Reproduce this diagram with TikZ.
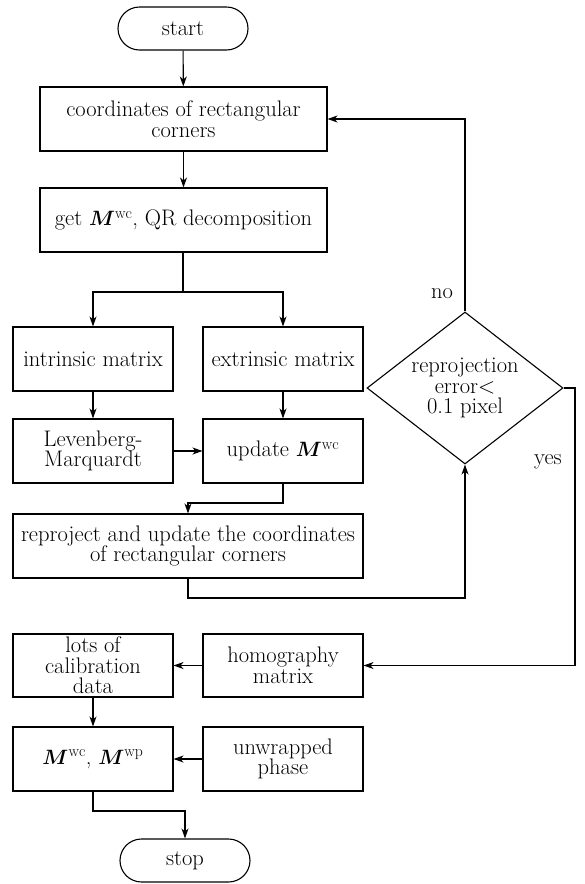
\documentclass[tikz,border=0pt]{standalone}
\usepackage{fontspec}
\usepackage{bm}
\usetikzlibrary{shapes.geometric,shapes.misc,arrows.meta}
\tikzset{
  txt/.style={font=\fontsize{22.5}{20.5}\selectfont},
  base/.style={draw, line width=1.1pt, inner xsep=2pt, inner ysep=1pt, align=center, txt},
  box/.style={base, rectangle, minimum height=64pt},
  term/.style={base, rounded rectangle, minimum width=134pt, minimum height=43pt},
  dec/.style={draw, line width=1.1pt, diamond, inner sep=0pt, aspect=1.29, minimum width=196pt, minimum height=152pt},
  arr/.style={line width=1.1pt, -{Stealth[length=10pt,width=7pt,inset=3pt]}},
  ln/.style={line width=1.1pt},
  lbl/.style={txt, align=center, inner sep=0pt}
}
\begin{document}
\begin{tikzpicture}[x=1pt,y=-1pt]
\useasboundingbox (0,0) rectangle (585,884);
\node[term] (start) at (183,28.5) {start};
\node[box, minimum width=287pt] (coords) at (183.5,119) {coordinates of rectangular\\corners};
\node[box, minimum width=287pt] (getM) at (183.5,220) {get $\bm{M}^{\mathrm{wc}}$, QR decomposition};
\node[box, minimum width=160pt] (intr) at (93,359) {intrinsic matrix};
\node[box, minimum width=160pt] (extr) at (283,359) {extrinsic matrix};
\node[box, minimum width=160pt] (lm) at (93,451) {Levenberg-\\Marquardt};
\node[box, minimum width=160pt] (upd) at (283,451) {update $\bm{M}^{\mathrm{wc}}$};
\node[box, minimum width=350pt] (repr) at (188,546) {reproject and update the coordinates\\of rectangular corners};
\node[dec] (dia) at (465,388) {};
\node[lbl] (diat) at (dia.center) {reprojection\\error<\\0.1 pixel};
\node[box, minimum width=160pt, minimum height=63pt] (lots) at (93,665.5) {lots of\\calibration\\data};
\node[box, minimum width=160pt, minimum height=63pt] (homog) at (283,665.5) {homography\\matrix};
\node[box, minimum width=160pt] (mbox) at (93,759) {$\bm{M}^{\mathrm{wc}}$, $\bm{M}^{\mathrm{wp}}$};
\node[box, minimum width=160pt] (unwr) at (283,759) {unwrapped\\phase};
\node[term] (stop) at (185,860.5) {stop};
\node[lbl] (no) at (442,294) {no};
\node[lbl] (yes) at (548,462) {yes};
\coordinate (split) at (183,292);
\coordinate (j1) at (230,503);
\coordinate (j2) at (300,598);
\coordinate (j3) at (575,500);
\coordinate (j4) at (140,811);
\draw[arr] (start) -- (coords);
\draw[arr] (coords) -- (getM);
\draw[ln] (getM.south -| split) -- (split);
\draw[arr] (split) -| (intr.north);
\draw[arr] (split) -| (extr.north);
\draw[arr] (intr) -- (lm);
\draw[arr] (extr) -- (upd);
\draw[arr] (lm) -- (upd);
\draw[arr] (upd.south) |- (j1) -| (repr.north);
\draw[arr] (repr.south) |- (j2) -| (dia.south);
\draw[arr] (dia.north) |- (coords.east);
\draw[arr] (dia.east) -| (j3) |- (homog.east);
\draw[arr] (homog) -- (lots);
\draw[arr] (lots) -- (mbox);
\draw[arr] (unwr) -- (mbox);
\draw[arr] (mbox.south) |- (j4) -| (stop.north);
\end{tikzpicture}
\end{document}
